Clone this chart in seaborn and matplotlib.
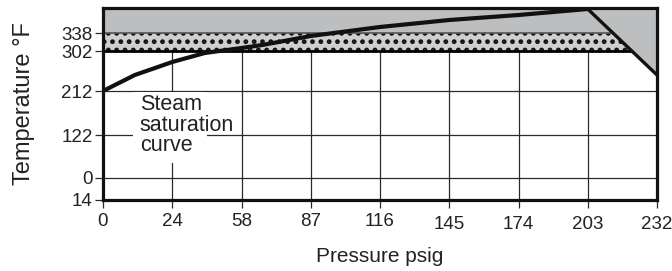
import numpy as np
import matplotlib
matplotlib.use("Agg")
import matplotlib.pyplot as plt
from matplotlib.patches import Polygon, Rectangle
import seaborn as sns

sns.set_theme(style="white")
plt.rcParams["font.family"] = ["Liberation Sans", "DejaVu Sans"]
plt.rcParams["hatch.linewidth"] = 2.2

# axis labels (x positions are evenly spaced, y positions follow the chart's own scale)
pressure_labels = ["0", "24", "58", "87", "116", "145", "174", "203", "232"]
temp_labels = ["14", "0", "122", "212", "302", "338"]
temp_levels = [0, 22, 65, 109, 149, 167]
y_top = 192

# steam saturation curve
curve_x = [0, 0.46, 1, 1.47, 2, 2.3, 3, 4, 5, 6, 6.5, 7]
curve_y = [109, 125, 138, 147, 152, 155, 164, 173, 180, 185, 188, 191]
# right hand cut-off line
cutoff_x = [7, 8]
cutoff_y = [191, 125]

fig = plt.figure(figsize=(6.72, 2.71), dpi=100)
ax = fig.add_axes([103 / 672, 1 - 200 / 271, 554 / 672, 192 / 271])

xpos = np.arange(len(pressure_labels))
ax.set_xlim(xpos[0], xpos[-1])
ax.set_ylim(0, y_top)

# gridlines
for x in xpos[1:-1]:
    ax.axvline(x, color="#2a2a2a", lw=0.9, zorder=0.5)
for y in temp_levels[1:4]:
    ax.axhline(y, color="#2a2a2a", lw=0.9, zorder=0.5)


def diag_x(y):
    return np.interp(y, cutoff_y[::-1], cutoff_x[::-1])


x_338 = diag_x(temp_levels[5])
x_302 = diag_x(temp_levels[4])

# grey region (top band + right triangle)
ax.add_patch(Polygon([(0, y_top), (8, y_top), (8, cutoff_y[1]),
                      (x_338, temp_levels[5]), (0, temp_levels[5])],
                     closed=True, facecolor="#bdbec0", edgecolor="none", zorder=1))
# dotted band between 302 and 338
ax.add_patch(Polygon([(0, temp_levels[4]), (x_302, temp_levels[4]),
                      (x_338, temp_levels[5]), (0, temp_levels[5])],
                     closed=True, facecolor="#cfcfcf", edgecolor="#111111",
                     hatch="..", lw=0, zorder=1))
ax.hlines(temp_levels[5], 0, x_338, color="#555555", lw=1.2, zorder=1.2)
ax.hlines(temp_levels[4], 0, x_302, color="black", lw=2.0, zorder=1.2)

# white box behind the label
ax.add_patch(Rectangle((0.433, 37), 1.07, 71, facecolor="white",
                       edgecolor="none", zorder=1.5))
ax.text(0.53, 106, "Steam\nsaturation\ncurve", fontsize=15.5, va="top",
        ha="left", linespacing=0.98, color="#222222", zorder=2)

sns.lineplot(x=curve_x, y=curve_y, color="#111111", lw=3, ax=ax, zorder=3)
sns.lineplot(x=cutoff_x, y=cutoff_y, color="#111111", lw=2.4, ax=ax, zorder=3)

# last four pressure labels sit a little lower in the original
ax.set_xticks(xpos[:5], pressure_labels[:5])
ax.set_xticks(xpos[5:], pressure_labels[5:], minor=True)
ax.set_yticks(temp_levels, temp_labels)
ax.tick_params(axis="both", which="both", direction="out", length=6, width=0.9,
               color="#2a2a2a", labelsize=13.5, labelcolor="#222222",
               left=True, bottom=True)
ax.tick_params(axis="x", which="major", pad=3.5)
ax.tick_params(axis="x", which="minor", pad=5.5)
ax.tick_params(axis="y", pad=1.5)

for s in ax.spines.values():
    s.set_visible(True)
    s.set_color("#111111")
    s.set_linewidth(2.3)
    s.set_zorder(4)

ax.set_xlabel("Pressure psig", fontsize=15, color="#222222", labelpad=10)
ax.set_ylabel("Temperature °F", fontsize=17, color="#222222", labelpad=19)

fig.savefig("out.png", dpi=100)
